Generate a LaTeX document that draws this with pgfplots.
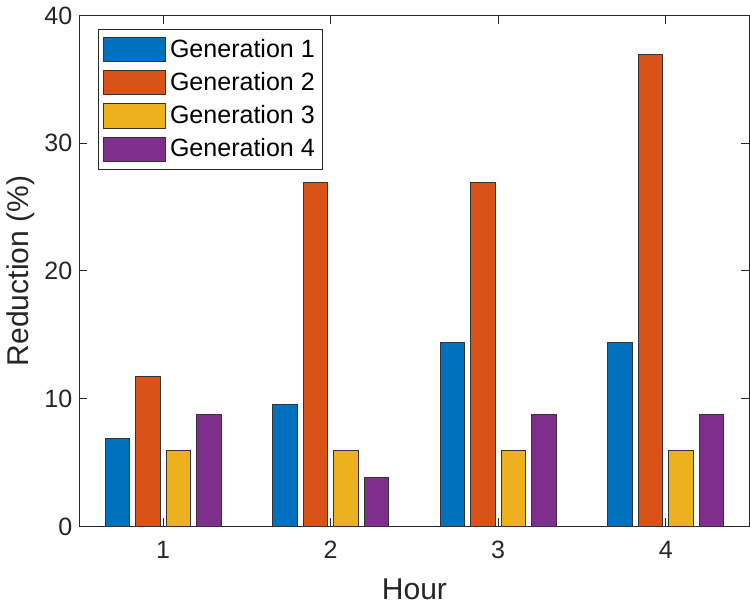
\documentclass[border=0pt]{standalone}
\usepackage{pgfplots}
\pgfplotsset{compat=1.18}
\usepackage{fontspec}
\setmainfont{Liberation Sans}
\definecolor{c1}{rgb}{0,0.447,0.741}
\definecolor{c2}{rgb}{0.85,0.325,0.098}
\definecolor{c3}{rgb}{0.929,0.694,0.125}
\definecolor{c4}{rgb}{0.494,0.184,0.556}
\definecolor{axgray}{rgb}{0.15,0.15,0.15}
\begin{document}
\begin{tikzpicture}
\begin{axis}[
  scale only axis,
  width=334.5pt, height=255pt,
  xmin=0.5, xmax=4.5, ymin=0, ymax=40,
  xtick={1,2,3,4}, ytick={0,10,20,30,40},
  tick align=inside,
  major tick length=4pt,
  axis line style={axgray, line width=0.5pt},
  tick style={axgray, line width=0.5pt},
  every tick label/.style={font=\fontsize{12.5}{14}\selectfont, text=axgray},
  xticklabel style={yshift=-4pt},
  /pgf/number format/assume math mode=true,
  xlabel={Hour}, ylabel={Reduction (\%)},
  label style={font=\fontsize{15}{17}\selectfont, text=axgray},
  ylabel style={yshift=-2pt},
  xlabel style={yshift=-3pt},
  bar width=0.145,
  legend style={at={(rel axis cs:0,1)}, xshift=9.5pt, yshift=-6.5pt, anchor=north west,
    draw=axgray, line width=0.5pt, font=\fontsize{12.5}{14}\selectfont,
    row sep=2pt, inner xsep=2pt, inner ysep=3pt, cells={anchor=west}},
  legend image code/.code={\draw[#1, draw=black!80, line width=0.5pt] (0pt,-6pt) rectangle (31pt,6pt);},
]
\addplot[ybar, bar shift=-0.273, fill=c1, draw=black!80, line width=0.5pt] coordinates {(1,6.9) (2,9.55) (3,14.4) (4,14.4)};
\addplot[ybar, bar shift=-0.091, fill=c2, draw=black!80, line width=0.5pt] coordinates {(1,11.75) (2,26.95) (3,26.95) (4,36.95)};
\addplot[ybar, bar shift=0.091, fill=c3, draw=black!80, line width=0.5pt] coordinates {(1,5.95) (2,5.95) (3,5.95) (4,5.95)};
\addplot[ybar, bar shift=0.273, fill=c4, draw=black!80, line width=0.5pt] coordinates {(1,8.75) (2,3.85) (3,8.75) (4,8.75)};
\legend{Generation 1, Generation 2, Generation 3, Generation 4}
\end{axis}
\end{tikzpicture}
\end{document}
